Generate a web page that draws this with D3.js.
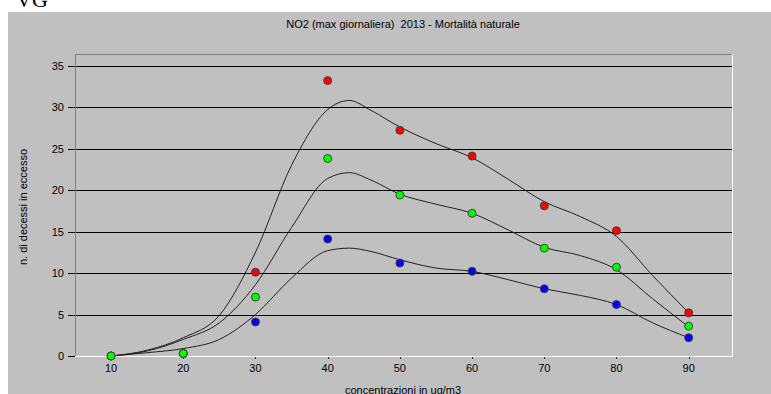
<!DOCTYPE html>
<html>
<head>
<meta charset="utf-8">
<script src="https://cdn.jsdelivr.net/npm/d3@7"></script>
<style>
  body { margin: 0; background: #fff; }
  text { font-family: "Liberation Sans", Arial, sans-serif; font-size: 11px; fill: #000; white-space: pre; }
</style>
</head>
<body>
<div id="chart"></div>
<script>
// concentration classes (ug/m3)
const xValues = [10, 20, 30, 40, 50, 60, 70, 80, 90];
// observed excess deaths
const redValues = [0, 0.3, 10.1, 33.2, 27.2, 24.1, 18.1, 15.1, 5.2];
const greenValues = [0, 0.3, 7.1, 23.8, 19.4, 17.2, 13.0, 10.7, 3.6];
const blueValues = [0, 0.3, 4.1, 14.1, 11.2, 10.2, 8.1, 6.2, 2.2];
// smoothed trend curves
const trendX = [10, 15, 20, 25, 30, 35, 40, 43, 46, 50, 55, 60, 65, 70, 75, 80, 85, 90];
const trendHigh = [0, 0.7, 2.2, 4.9, 12.5, 23, 29.7, 30.8, 29.6, 27.6, 25.6, 23.9, 21.3, 18.6, 16.8, 14.4, 9.7, 5.2];
const trendMid = [0, 0.6, 2.0, 4.0, 8.6, 15.5, 21.4, 22.1, 21.2, 19.5, 18.3, 17.2, 15.2, 13.1, 12.1, 10.4, 6.9, 3.5];
const trendLow = [0, 0.4, 0.9, 2.0, 5.0, 9.4, 12.7, 13.0, 12.6, 11.6, 10.6, 10.2, 9.2, 8.1, 7.3, 6.2, 4.0, 2.2];
const yTicks = [0, 5, 10, 15, 20, 25, 30, 35];

const title = 'NO2 (max giornaliera)  2013 - Mortalità naturale';
const xTitle = 'concentrazioni in ug/m3';
const yTitle = 'n. di decessi in eccesso';

const width = 771, height = 394;
const plot = { left: 75, top: 54, right: 732, bottom: 356 };

const svg = d3.select('#chart').append('svg')
  .attr('width', width).attr('height', height);

// cropped text of the page above the figure
svg.append('text')
  .attr('x', 16).attr('y', 7)
  .style('font-family', '"Liberation Serif", serif')
  .style('font-size', '22px')
  .text('VG');

// grey panel
svg.append('rect')
  .attr('x', 8).attr('y', 12)
  .attr('width', width - 8).attr('height', height - 12)
  .attr('fill', '#c0c0c0');

const x = d3.scaleLinear().domain([5, 96]).range([plot.left, plot.right]);
const y = d3.scaleLinear().domain([0, 36.4]).range([plot.bottom, plot.top]);

// gridlines
svg.append('g')
  .selectAll('line')
  .data(yTicks.filter((d) => d > 0))
  .enter()
  .append('line')
  .attr('x1', 68).attr('x2', plot.right)
  .attr('y1', (d) => Math.round(y(d)) + 0.5)
  .attr('y2', (d) => Math.round(y(d)) + 0.5)
  .attr('stroke', '#000')
  .attr('stroke-width', 1);
svg.append('line')
  .attr('x1', 68).attr('x2', plot.left)
  .attr('y1', plot.bottom + 0.5).attr('y2', plot.bottom + 0.5)
  .attr('stroke', '#000');

// sunken frame
svg.append('line')
  .attr('x1', plot.left + 0.5).attr('x2', plot.left + 0.5)
  .attr('y1', plot.top).attr('y2', plot.bottom)
  .attr('stroke', '#808080');
svg.append('line')
  .attr('x1', plot.left).attr('x2', plot.right)
  .attr('y1', plot.top + 0.5).attr('y2', plot.top + 0.5)
  .attr('stroke', '#808080');
svg.append('line')
  .attr('x1', plot.left).attr('x2', plot.right + 1)
  .attr('y1', plot.bottom + 0.5).attr('y2', plot.bottom + 0.5)
  .attr('stroke', '#fff');
svg.append('line')
  .attr('x1', plot.right + 0.5).attr('x2', plot.right + 0.5)
  .attr('y1', plot.top).attr('y2', plot.bottom)
  .attr('stroke', '#fff');

// y tick labels
svg.append('g')
  .selectAll('text')
  .data(yTicks)
  .enter()
  .append('text')
  .attr('x', 64)
  .attr('y', (d) => y(d))
  .attr('text-anchor', 'end')
  .attr('dominant-baseline', 'central')
  .text((d) => d);

// x ticks + labels
const xt = svg.append('g');
xt.selectAll('line')
  .data(xValues)
  .enter()
  .append('line')
  .attr('x1', (d) => Math.round(x(d)) + 0.5)
  .attr('x2', (d) => Math.round(x(d)) + 0.5)
  .attr('y1', plot.bottom + 1).attr('y2', plot.bottom + 3)
  .attr('stroke', '#303030');
xt.selectAll('text')
  .data(xValues)
  .enter()
  .append('text')
  .attr('x', (d) => x(d))
  .attr('y', 368)
  .attr('text-anchor', 'middle')
  .attr('dominant-baseline', 'central')
  .text((d) => d);

// titles
svg.append('text')
  .attr('x', 403).attr('y', 24)
  .attr('text-anchor', 'middle')
  .attr('dominant-baseline', 'central')
  .text(title);
svg.append('text')
  .attr('x', 403).attr('y', 394)
  .attr('text-anchor', 'middle')
  .text(xTitle);
svg.append('text')
  .attr('transform', 'translate(23,207) rotate(-90)')
  .attr('text-anchor', 'middle')
  .attr('dominant-baseline', 'central')
  .text(yTitle);

// trend curves
const line = d3.line()
  .x((d) => x(d[0]))
  .y((d) => y(d[1]))
  .curve(d3.curveMonotoneX);

[trendHigh, trendMid, trendLow].forEach((vals) => {
  svg.append('path')
    .datum(trendX.map((v, i) => [v, vals[i]]))
    .attr('fill', 'none')
    .attr('stroke', '#222')
    .attr('stroke-width', 1)
    .attr('d', line);
});

// points
const series = [
  { values: blueValues, color: '#0000ff' },
  { values: redValues, color: '#ff0000' },
  { values: greenValues, color: '#00ff00' },
];
series.forEach((s) => {
  svg.append('g')
    .selectAll('circle')
    .data(xValues.map((v, i) => [v, s.values[i]]))
    .enter()
    .append('circle')
    .attr('cx', (d) => x(d[0]))
    .attr('cy', (d) => y(d[1]))
    .attr('r', 4)
    .attr('fill', s.color)
    .attr('stroke', '#404040')
    .attr('stroke-width', 1);
});
</script>
</body>
</html>
